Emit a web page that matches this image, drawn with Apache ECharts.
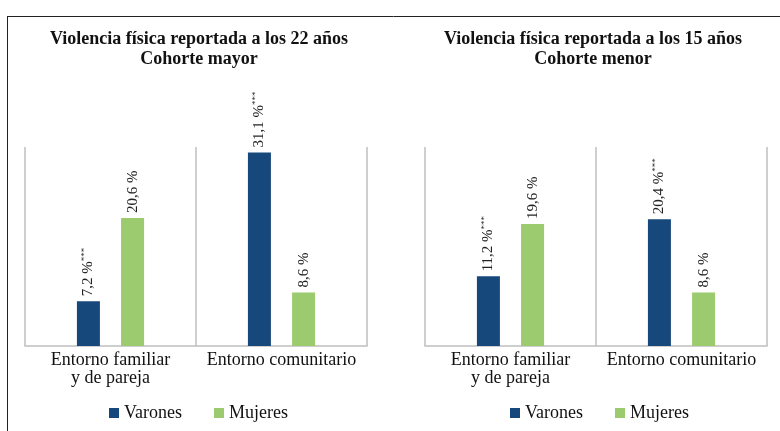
<!DOCTYPE html>
<html>
<head>
<meta charset="utf-8">
<script src="https://cdn.jsdelivr.net/npm/echarts@6/dist/echarts.min.js"></script>
<style>html,body{margin:0;padding:0;background:#fff;}#c{width:780px;height:431px;}</style>
</head>
<body>
<div id="c"></div>
<script>
var categories = ['Entorno familiar\ny de pareja', 'Entorno comunitario'];
var seriesNames = ['Varones', 'Mujeres'];
var mayorVarones = [7.2, 31.1];
var mayorMujeres = [20.6, 8.6];
var menorVarones = [11.2, 20.4];
var menorMujeres = [19.6, 8.6];
var mayorVaronesSig = ['***', '***'];
var mayorMujeresSig = ['', ''];
var menorVaronesSig = ['***', '***'];
var menorMujeresSig = ['', ''];
var titles = ['Violencia física reportada a los 22 años\nCohorte mayor', 'Violencia física reportada a los 15 años\nCohorte menor'];

var FONT = '"Liberation Serif", "DejaVu Serif", serif';
var NAVY = '#17487B';
var GREEN = '#9BCB6E';

function fmt(v) { return v.toFixed(1).replace('.', ',') + ' %'; }

function makeSeries(name, data, sig, idx, color) {
  return {
    name: name, type: 'bar', xAxisIndex: idx, yAxisIndex: idx,
    data: data, barWidth: 23, barGap: '92%',
    itemStyle: { color: color },
    label: {
      show: true, position: 'top', rotate: 90, align: 'left', verticalAlign: 'middle', distance: 5,
      formatter: function (p) { var s = sig[p.dataIndex]; return '{a|' + fmt(p.value) + '}' + (s ? '{b|' + s + '}' : ''); },
      rich: {
        a: { fontFamily: FONT, fontSize: 15, color: '#222', lineHeight: 17 },
        b: { fontFamily: FONT, fontSize: 9, color: '#222', verticalAlign: 'top', lineHeight: 17 }
      }
    }
  };
}

function xAxis(idx) {
  return {
    type: 'category', gridIndex: idx, data: categories,
    axisLine: { show: true, lineStyle: { color: '#BFBFBF', width: 1.5 } },
    axisTick: { show: false },
    splitLine: { show: true, lineStyle: { color: '#BFBFBF', width: 1.5 } },
    axisLabel: { fontFamily: FONT, fontSize: 18, color: '#111', lineHeight: 18, margin: 5, interval: 0 }
  };
}
function yAxis(idx) {
  return { type: 'value', gridIndex: idx, min: 0, max: 32, show: false, splitLine: { show: false } };
}

var chart = echarts.init(document.getElementById('c'), null, { renderer: 'canvas' });
chart.setOption({
  animation: false,
  backgroundColor: '#fff',
  title: [
    { text: titles[0], left: 194, top: 24, textAlign: 'center',
      textStyle: { fontFamily: FONT, fontSize: 18, fontWeight: 'bold', color: '#111', lineHeight: 20 } },
    { text: titles[1], left: 588, top: 24, textAlign: 'center',
      textStyle: { fontFamily: FONT, fontSize: 18, fontWeight: 'bold', color: '#111', lineHeight: 20 } }
  ],
  legend: [
    { data: seriesNames, left: 104, top: 399, icon: 'rect', itemWidth: 10, itemHeight: 10, itemGap: 32,
      textStyle: { fontFamily: FONT, fontSize: 18, color: '#111' } },
    { data: seriesNames, left: 505, top: 399, icon: 'rect', itemWidth: 10, itemHeight: 10, itemGap: 32,
      textStyle: { fontFamily: FONT, fontSize: 18, color: '#111' } }
  ],
  grid: [
    { left: 25, top: 147, width: 342, height: 199 },
    { left: 425, top: 147, width: 342, height: 199 }
  ],
  xAxis: [xAxis(0), xAxis(1)],
  yAxis: [yAxis(0), yAxis(1)],
  series: [
    makeSeries(seriesNames[0], mayorVarones, mayorVaronesSig, 0, NAVY),
    makeSeries(seriesNames[1], mayorMujeres, mayorMujeresSig, 0, GREEN),
    makeSeries(seriesNames[0], menorVarones, menorVaronesSig, 1, NAVY),
    makeSeries(seriesNames[1], menorMujeres, menorMujeresSig, 1, GREEN)
  ],
  graphic: [
    { type: 'line', shape: { x1: 7, y1: 16.5, x2: 780, y2: 16.5 }, style: { stroke: '#222', lineWidth: 1 } },
    { type: 'line', shape: { x1: 7.5, y1: 16, x2: 7.5, y2: 431 }, style: { stroke: '#222', lineWidth: 1 } }
  ]
});
</script>
</body>
</html>
